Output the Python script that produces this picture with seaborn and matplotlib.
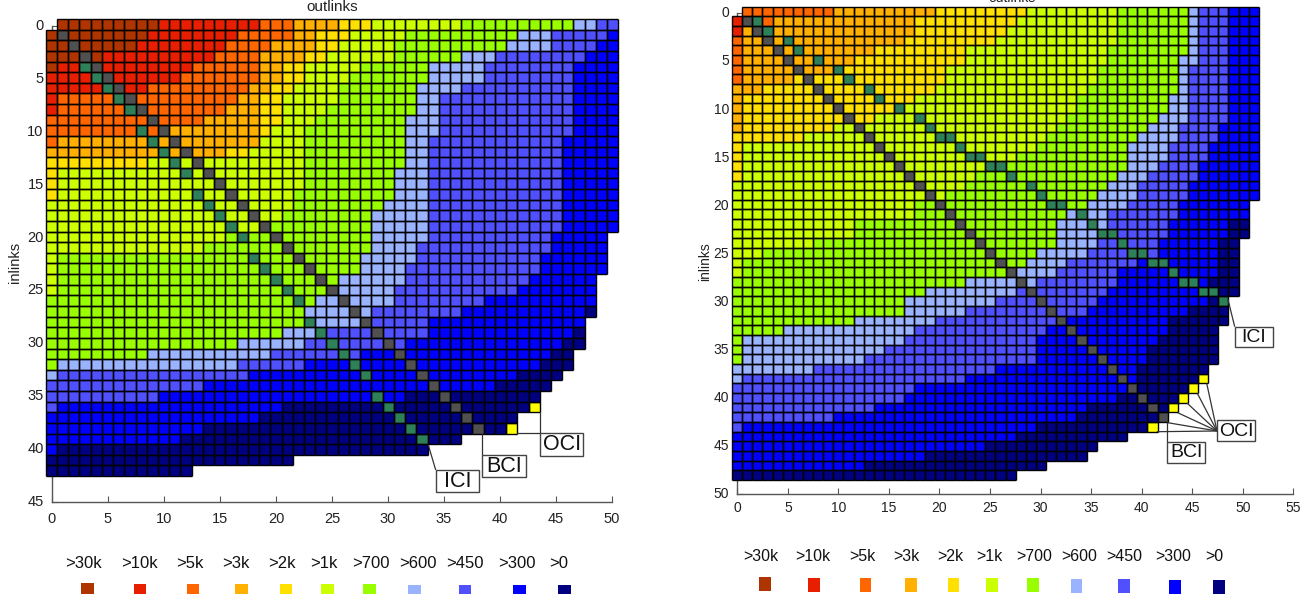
import numpy as np
import pandas as pd
import matplotlib
matplotlib.use("Agg")
import matplotlib.pyplot as plt
from matplotlib.colors import ListedColormap
from matplotlib.patches import Rectangle
import seaborn as sns

W, H = 1314, 602
level_labels = ['>30k', '>10k', '>5k', '>3k', '>2k', '>1k', '>700', '>600', '>450', '>300', '>0']
level_colors = ['#B03400', '#E81E00', '#FF6600', '#FFB000', '#FFE000', '#CCFF00', '#99FF00',
                '#99B3FF', '#5050FF', '#0000FF', '#000080']
bci_color, ici_color, oci_color = '#505050', '#2E8058', '#FFFF00'

# each row: the column where each level (>30k ... >0) stops
left_ends = [
 [10,19,22,26,29,37,47,49,51,51,51], [9,17,22,24,27,32,42,45,50,51,51], [8,16,20,24,26,31,41,45,49,51,51],
 [5,15,19,23,25,31,37,40,48,51,51], [1,13,19,21,23,28,34,39,47,51,51], [0,12,19,21,23,27,34,39,47,51,51],
 [0,9,18,20,22,26,33,37,47,51,51], [0,1,17,19,21,26,33,35,47,51,51], [0,1,16,19,21,25,33,35,47,51,51],
 [0,0,14,19,21,24,32,35,47,51,51], [0,0,10,19,20,23,32,35,47,51,51], [0,0,1,19,19,23,32,34,46,51,51],
 [0,0,0,16,18,23,32,34,46,51,51], [0,0,0,0,9,23,32,34,46,51,51], [0,0,0,0,1,23,31,34,46,51,51],
 [0,0,0,0,1,23,31,34,46,51,51], [0,0,0,0,1,22,31,34,46,51,51], [0,0,0,0,0,22,30,34,46,51,51],
 [0,0,0,0,0,21,29,34,46,51,51], [0,0,0,0,0,20,29,34,46,51,51], [0,0,0,0,0,16,29,34,45,50,50],
 [0,0,0,0,0,14,29,33,45,50,50], [0,0,0,0,0,1,28,33,44,50,50], [0,0,0,0,0,1,28,32,44,50,50],
 [0,0,0,0,0,1,26,32,43,49,49], [0,0,0,0,0,1,25,31,42,49,49], [0,0,0,0,0,0,24,31,39,49,49],
 [0,0,0,0,0,0,23,29,37,48,49], [0,0,0,0,0,0,23,28,34,48,48], [0,0,0,0,0,0,21,24,34,47,48],
 [0,0,0,0,0,0,17,23,32,46,48], [0,0,0,0,0,0,9,20,28,45,47], [0,0,0,0,0,0,1,17,23,44,47],
 [0,0,0,0,0,0,0,1,18,42,46], [0,0,0,0,0,0,0,0,14,40,45], [0,0,0,0,0,0,0,0,10,32,44],
 [0,0,0,0,0,0,0,0,1,21,44], [0,0,0,0,0,0,0,0,0,19,42], [0,0,0,0,0,0,0,0,0,14,42],
 [0,0,0,0,0,0,0,0,0,12,37], [0,0,0,0,0,0,0,0,0,1,34], [0,0,0,0,0,0,0,0,0,0,22],
 [0,0,0,0,0,0,0,0,0,0,13],
]
left_ici = [(4,3),(5,4),(6,5),(7,6),(8,7),(10,8),(11,9),(12,10),(13,11),(14,12),(16,13),(17,14),(18,15),
            (19,16),(20,17),(22,18),(23,19),(24,20),(25,21),(26,22),(28,23),(29,24),(30,25),(31,26),
            (32,27),(33,28),(35,29),(36,30),(37,31),(38,32),(39,33)]
left_bci_last = 38
left_oci = [(36,43),(38,41)]

right_ends = [
 [0,0,10,20,29,38,45,46,49,52,52], [0,1,4,18,28,38,45,46,49,52,52], [0,1,1,18,27,38,45,46,49,52,52],
 [0,0,1,17,26,38,45,46,49,52,52], [0,0,1,14,23,37,45,46,49,52,52], [0,0,1,12,23,37,44,46,49,52,52],
 [0,0,1,10,21,36,44,45,49,52,52], [0,0,1,6,21,36,44,45,49,52,52], [0,0,0,3,20,35,44,45,49,52,52],
 [0,0,0,1,18,34,43,45,49,52,52], [0,0,0,1,16,34,43,45,49,52,52], [0,0,0,1,14,33,42,45,49,52,52],
 [0,0,0,1,10,32,41,44,48,52,52], [0,0,0,0,7,31,40,44,48,52,52], [0,0,0,0,1,30,39,43,47,52,52],
 [0,0,0,0,1,28,39,43,47,52,52], [0,0,0,0,1,25,39,42,46,52,52], [0,0,0,0,1,24,38,41,46,52,52],
 [0,0,0,0,0,23,37,40,45,52,52], [0,0,0,0,0,21,36,40,45,52,52], [0,0,0,0,0,18,35,39,44,51,51],
 [0,0,0,0,0,18,33,37,44,51,51], [0,0,0,0,0,12,32,37,43,49,51], [0,0,0,0,0,12,32,36,43,49,51],
 [0,0,0,0,0,8,32,36,42,48,50], [0,0,0,0,0,3,30,35,42,48,50], [0,0,0,0,0,1,29,33,40,48,50],
 [0,0,0,0,0,1,27,32,38,48,50], [0,0,0,0,0,0,23,30,38,47,50], [0,0,0,0,0,0,19,28,37,48,50],
 [0,0,0,0,0,0,17,26,36,47,49], [0,0,0,0,0,0,17,23,35,45,49], [0,0,0,0,0,0,12,20,33,43,49],
 [0,0,0,0,0,0,5,18,31,43,48], [0,0,0,0,0,0,1,17,30,42,48], [0,0,0,0,0,0,1,15,30,41,48],
 [0,0,0,0,0,0,1,13,30,41,48], [0,0,0,0,0,0,0,8,26,40,47], [0,0,0,0,0,0,0,1,23,40,47],
 [0,0,0,0,0,0,0,0,18,39,46], [0,0,0,0,0,0,0,0,17,38,45], [0,0,0,0,0,0,0,0,14,35,44],
 [0,0,0,0,0,0,0,0,10,34,43], [0,0,0,0,0,0,0,0,1,30,42], [0,0,0,0,0,0,0,0,0,28,39],
 [0,0,0,0,0,0,0,0,0,25,36], [0,0,0,0,0,0,0,0,0,19,35], [0,0,0,0,0,0,0,0,0,13,31],
 [0,0,0,0,0,0,0,0,0,0,28],
]
right_ici = [(1,2),(2,3),(3,5),(4,6),(5,8),(6,10),(7,11),(8,13),(9,14),(10,16),(11,18),(12,19),(13,20),(13,21),
             (14,22),(15,23),(15,24),(16,25),(16,26),(17,27),(18,29),(19,30),(20,31),(20,32),(21,34),(22,35),
             (23,36),(23,37),(24,38),(25,39),(25,40),(26,41),(26,42),(27,43),(28,44),(28,45),(29,46),(29,47),(30,48)]
right_bci_last = 42
right_oci = [(38,46),(39,45),(40,44),(41,43),(43,41)]


def build(ends, ici, bci_last, oci):
    ncol = max(max(r) for r in ends)
    m = np.full((len(ends), ncol), np.nan)
    for i, row in enumerate(ends):
        start = 0
        for lev, stop in enumerate(row):
            m[i, start:stop] = lev
            start = max(start, stop)
    m[0, 0] = np.nan
    for d in range(1, bci_last + 1):
        m[d, d] = 11
    for r, c in ici:
        m[r, c] = 12
    for r, c in oci:
        m[r, c] = 13
    return pd.DataFrame(m)


cmap = ListedColormap(level_colors + [bci_color, ici_color, oci_color])
plt.rcParams['font.family'] = ['Liberation Sans', 'DejaVu Sans']
fig = plt.figure(figsize=(W / 100, H / 100), dpi=100, facecolor='white')


def axes_px(x0, y0, x1, y1):
    return fig.add_axes([x0 / W, 1 - y1 / H, (x1 - x0) / W, (y1 - y0) / H])


def panel(frame, box, xl, xr, yt, yb, xmax, ymax, fs, pad_x):
    ax = axes_px(*box)
    sns.heatmap(frame, ax=ax, cmap=cmap, vmin=-0.5, vmax=13.5, cbar=False,
                mask=frame.isna(), square=False)
    ax.collections[0].set_clip_on(False)
    # grid only round the cells that hold a value
    rows, cols = np.where(frame.notna().values)
    hy = np.concatenate([rows, rows + 1])
    hx = np.concatenate([cols, cols])
    vx = np.concatenate([cols, cols + 1])
    vy = np.concatenate([rows, rows])
    ax.hlines(hy, hx, hx + 1, colors='#000000', linewidth=1.0, clip_on=False, zorder=3)
    ax.vlines(vx, vy, vy + 1, colors='#000000', linewidth=1.0, clip_on=False, zorder=3)
    ax.set_xlim(xl, xr)
    ax.set_ylim(yb, yt)
    xt = np.arange(0, xmax + 1, 5)
    yv = np.arange(0, ymax + 1, 5)
    ax.set_xticks(np.linspace(xl, xr, len(xt)), [str(v) for v in xt], rotation=0, fontsize=fs, color='#222222')
    ax.set_yticks(np.linspace(yt, yb, len(yv)), [str(v) for v in yv], rotation=0, fontsize=fs, color='#222222')
    ax.set_axisbelow(True)
    ax.tick_params(axis='both', direction='in', length=4, width=0.8, color='#555555')
    ax.tick_params(axis='x', pad=pad_x)
    ax.tick_params(axis='y', pad=6)
    ax.set_xlabel('')
    ax.set_ylabel('')
    for s in ['left', 'bottom']:
        ax.spines[s].set_visible(True)
        ax.spines[s].set_color('#555555')
        ax.spines[s].set_linewidth(1.0)
        ax.spines[s].set_zorder(0.5)
    for s in ['top', 'right']:
        ax.spines[s].set_visible(False)
    return ax


panel(build(left_ends, left_ici, left_bci_last, left_oci), (52, 26, 612, 502), 0.56, 50.43, 0.66, 45.44, 50, 45, 10.5, 7)
panel(build(right_ends, right_ici, right_bci_last, right_oci), (737.3, 13.3, 1293.3, 494.3), 0.52, 55.4, 0.68, 50.5, 55, 50, 10, 5)

ov = fig.add_axes([0, 0, 1, 1])
ov.set_xlim(0, W)
ov.set_ylim(H, 0)
ov.axis('off')
ov.patch.set_alpha(0)

ov.text(332, 11, 'outlinks', ha='center', va='baseline', fontsize=11, color='#222222')
ov.text(1012, 2, 'outlinks', ha='center', va='baseline', fontsize=10, color='#222222')
ov.text(15, 262, 'inlinks', ha='center', va='center', rotation=90, fontsize=10.5, color='#222222')
ov.text(705, 262, 'inlinks', ha='center', va='center', rotation=90, fontsize=10, color='#222222')


def callout(label, x0, y0, x1, y1, fs):
    ov.add_patch(Rectangle((x0, y0), x1 - x0, y1 - y0, fc='white', ec='#444444', lw=1.0, zorder=5))
    ov.text((x0 + x1) / 2, (y0 + y1) / 2 + 0.5, label, ha='center', va='center', fontsize=fs, color='#111111', zorder=6)


def leader(x0, y0, x1, y1):
    ov.plot([x0, x1], [y0, y1], color='#333333', lw=0.9, zorder=4, solid_capstyle='butt')


leader(428.3, 445, 435.7, 470)
leader(482.3, 433, 482.3, 455.3)
leader(540, 412, 540, 433.3)
leader(517.3, 433.3, 540, 433.3)
callout('ICI', 435.7, 470, 479.3, 492, 15.5)
callout('BCI', 482.3, 455.3, 525.7, 477.3, 15.5)
callout('OCI', 540, 433.3, 583.3, 455.7, 15.5)

leader(1227.7, 298.3, 1234.7, 326.7)
leader(1167.3, 421.7, 1167.3, 441.7)
for xa, ya in [(1206.7, 383.3), (1197.3, 393.3), (1187.3, 403.3), (1177.7, 412.7), (1167.7, 422.7), (1156.7, 431.7)]:
    leader(xa, ya, 1217, 431)
callout('ICI', 1234.7, 327, 1272.7, 347, 14)
callout('OCI', 1217, 420, 1255, 441, 14)
callout('BCI', 1167.3, 441.7, 1205.3, 462.7, 14)

left_text_x = [83, 139, 190, 236, 282, 324, 371, 418, 465, 517, 559]
left_box_x = [87.7, 140, 193, 241.7, 286, 327.7, 369.3, 414.7, 465, 519.3, 564.7]
left_box_top = [583, 584, 584, 584, 584, 584, 584, 585, 585, 585, 585]
right_text_x = [760.7, 813.3, 862.3, 906.3, 950.3, 989.7, 1034, 1079.3, 1124, 1173.3, 1214]
right_box_x = [764.7, 814, 865.3, 911, 953.3, 992, 1032.7, 1076.3, 1123.7, 1175, 1218.7]
right_box_top = [577, 578, 578, 578, 578, 578, 578, 579, 579, 580, 580]

for lab, col, tx, bx, bt in zip(level_labels, level_colors, left_text_x, left_box_x, left_box_top):
    ov.text(tx, 564, lab, ha='center', va='center', fontsize=12, color='#111111')
    ov.add_patch(Rectangle((bx - 6.3, bt), 12.6, 594 - bt, fc=col, ec='none'))
for lab, col, tx, bx, bt in zip(level_labels, level_colors, right_text_x, right_box_x, right_box_top):
    ov.text(tx, 556.7, lab, ha='center', va='center', fontsize=11.5, color='#111111')
    ov.add_patch(Rectangle((bx - 5.8, bt), 11.6, 14, fc=col, ec='none'))

fig.savefig('out.png', dpi=100, facecolor='white')
